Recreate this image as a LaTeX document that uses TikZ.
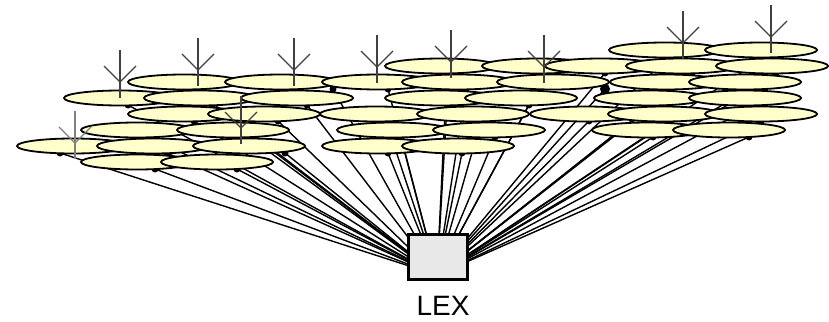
\documentclass[tikz,border=0pt]{standalone}
\usepackage{fontspec}
\setmainfont{Liberation Sans}
\usetikzlibrary{shapes.geometric}
\definecolor{cellfill}{HTML}{FFFFCC}
\definecolor{boxfill}{HTML}{E8E8E8}
\definecolor{antdark}{HTML}{404040}
\definecolor{antlight}{HTML}{808080}
\begin{document}
\begin{tikzpicture}[x=1pt,y=-1pt,
  cell/.style={ellipse, draw=black, fill=cellfill, line width=1.8pt,
    minimum width=112pt, minimum height=15pt, inner sep=0pt, outer sep=0pt},
  conn/.style={draw=black, line width=1.4pt},
  termdot/.style={fill=black},
  antenna/.style={draw=antdark, line width=1.1pt},
  lexbox/.style={draw=black, fill=boxfill, line width=3pt,
    minimum width=59pt, minimum height=45pt, inner sep=0pt},
  lexlabel/.style={font=\fontsize{28}{30}\selectfont, inner sep=0pt}]
\useasboundingbox (0,0) rectangle (829,321);
\def\celllist{609/50/4, 705/50/4,
  385/66/6, 482/66/8, 545/66/4, 626/66/10, 716/66/4,
  128/82/10, 225/82/52, 322/82/10, 402/82/8, 497/82/52, 610/82/6, 689/82/10,
  64/98/8, 144/98/12, 241/98/10, 385/98/6, 465/98/8, 594/98/4, 689/98/10,
  128/114/10, 208/114/14, 320/114/10, 417/114/8, 530/114/3, 608/114/6, 705/114/0,
  81/130/12, 177/130/16, 337/130/8, 433/130/6, 592/130/5, 673/130/20,
  17/146/-13, 97/146/14, 193/146/36, 322/146/10, 402/146/4,
  81/162/18, 161/162/20}
% terminal points
\foreach \lx/\ry/\dx [count=\i] in \celllist {
  \coordinate (d\i) at ({\lx+56+\dx},{\ry+7}); }
\coordinate (aim) at (437,275);
% connectors to the exchange
\foreach \i in {1,...,41} { \draw[conn] (d\i) -- (aim); }
\foreach \i in {1,...,41} { \fill[termdot] (d\i) circle[radius=3.5pt]; }
\fill[termdot] (d12) circle[radius=5pt];
% cells
\foreach \lx/\ry/\dx [count=\i] in \celllist {
  \node[cell] (e\i) at ({\lx+56},\ry) {}; }
% antennas
\foreach \ax/\at in {120/50, 198/38, 294/38, 377/35, 451/30, 544/35, 683/11, 771/5, 241/96} {
  \draw[antenna] (\ax,\at) -- (\ax,{\at+48});
  \draw[antenna] ({\ax-16},{\at+16}) -- (\ax,{\at+32}) -- ({\ax+16},{\at+16});
}
\draw[antenna, draw=antlight] (75,111) -- (75,159);
\draw[antenna, draw=antlight] (59,127) -- (75,143) -- (91,127);
% exchange
\node[lexbox] (lex) at (437.5,257) {};
\node[lexlabel] (lexname) at (443,306) {LEX};
\end{tikzpicture}
\end{document}
